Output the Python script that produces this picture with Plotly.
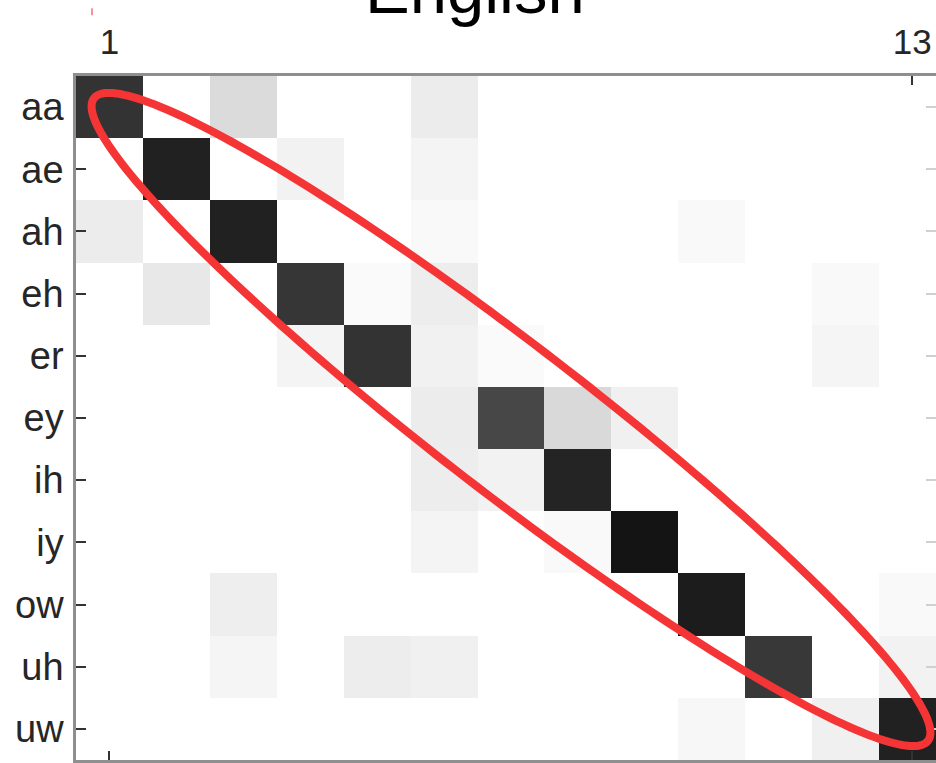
import numpy as np
import plotly.graph_objects as go

# ---- data ----
phones = ["aa", "ae", "ah", "eh", "er", "ey", "ih", "iy", "ow", "uh", "uw"]
clusters = list(range(1, 14))
x_tick_vals = [1, 13]
x_tick_text = ["1", "13"]
title_text = "English"

row_aa = [0.80, 0, 0.14, 0, 0, 0.075, 0, 0, 0, 0, 0, 0, 0]
row_ae = [0, 0.87, 0, 0.05, 0, 0.045, 0, 0, 0, 0, 0, 0, 0]
row_ah = [0.075, 0, 0.87, 0, 0, 0.025, 0, 0, 0, 0.025, 0, 0, 0]
row_eh = [0, 0.09, 0, 0.79, 0.02, 0.07, 0, 0, 0, 0, 0, 0.025, 0]
row_er = [0, 0, 0, 0.045, 0.80, 0.055, 0.02, 0, 0, 0, 0, 0.04, 0]
row_ey = [0, 0, 0, 0, 0, 0.075, 0.72, 0.15, 0.06, 0, 0, 0, 0]
row_ih = [0, 0, 0, 0, 0, 0.07, 0.05, 0.86, 0, 0, 0, 0, 0]
row_iy = [0, 0, 0, 0, 0, 0.045, 0, 0.025, 0.92, 0, 0, 0, 0]
row_ow = [0, 0, 0.065, 0, 0, 0, 0, 0, 0, 0.89, 0, 0, 0.025]
row_uh = [0, 0, 0.04, 0, 0.07, 0.06, 0, 0, 0, 0, 0.78, 0, 0.05]
row_uw = [0, 0, 0, 0, 0, 0, 0, 0, 0, 0.03, 0, 0.06, 0.87]

z = [row_aa, row_ae, row_ah, row_eh, row_er, row_ey, row_ih, row_iy,
     row_ow, row_uh, row_uw]

# ---- figure ----
W, H = 936, 763
ML, MR, MT, MB = 76, 0, 76, 1
PW, PH = W - ML - MR, H - MT - MB
col_w = 66.9
x_max = 0.5 + PW / col_w

fig = go.Figure()
fig.add_trace(go.Heatmap(
    z=z, x=clusters, y=phones,
    zmin=0, zmax=1,
    colorscale=[[0, "#ffffff"], [1, "#000000"]],
    showscale=False,
    hoverinfo="x+y+z",
))
# invisible copy bound to a right-hand y axis (only for its faint tick marks)
fig.add_trace(go.Heatmap(
    z=z, x=clusters, y=phones, yaxis="y2",
    zmin=0, zmax=1, colorscale=[[0, "#ffffff"], [1, "#000000"]],
    showscale=False, opacity=0, hoverinfo="skip",
))

tick_font = dict(family="Liberation Sans, Arial, sans-serif", color="#262626")

fig.update_layout(
    width=W, height=H,
    margin=dict(l=ML, r=MR, t=MT, b=MB, pad=0),
    paper_bgcolor="white", plot_bgcolor="white",
    xaxis=dict(
        side="top", range=[0.5, x_max],
        tickmode="array", tickvals=x_tick_vals, ticktext=x_tick_text,
        ticks="inside", ticklen=9, tickwidth=1.5, tickcolor="#333333",
        showline=True, linecolor="#8f8f8f", linewidth=2.5,
        mirror="ticks", showgrid=False, zeroline=False,
        tickfont=dict(size=35, **tick_font), ticklabelstandoff=5,
    ),
    yaxis=dict(
        range=[len(phones) - 0.5, -0.5],
        ticks="inside", ticklen=10, tickwidth=1.5, tickcolor="#333333",
        showline=True, linecolor="#8f8f8f", linewidth=2.5,
        showgrid=False, zeroline=False,
        tickfont=dict(size=38, **tick_font), ticklabelstandoff=2,
    ),
    yaxis2=dict(
        overlaying="y", side="right", matches="y",
        ticks="inside", ticklen=10, tickwidth=1.5, tickcolor="#d0d0d0",
        showticklabels=False, showline=False, showgrid=False, zeroline=False,
    ),
)

# title (partly cut by top edge, as in the reference)
fig.add_annotation(
    text=title_text, xref="paper", yref="paper",
    x=(475 - ML) / PW, y=1 + (MT - 29) / PH,
    xanchor="center", yanchor="bottom", showarrow=False,
    font=dict(family="Liberation Sans, Arial, sans-serif", size=67, color="#000000"),
)

# red highlight ellipse along the diagonal (pixel geometry -> paper coords)
cx, cy, a, b, th = 511.0, 420.5, 527.0, 74.0, np.deg2rad(37.7)
t = np.linspace(0, 2 * np.pi, 241)
px = cx + a * np.cos(t) * np.cos(th) - b * np.sin(t) * np.sin(th)
py = cy + a * np.cos(t) * np.sin(th) + b * np.sin(t) * np.cos(th)
ux = (px - ML) / PW
uy = (H - MB - py) / PH
path = "M " + " L ".join(f"{xx:.5f},{yy:.5f}" for xx, yy in zip(ux, uy)) + " Z"
fig.add_shape(type="path", path=path, xref="paper", yref="paper",
              line=dict(color="#f53535", width=8), layer="above")

# small red stray mark near top-left
fig.add_shape(type="line", xref="paper", yref="paper",
              x0=(92 - ML) / PW, x1=(92 - ML) / PW,
              y0=(H - MB - 8) / PH, y1=(H - MB - 15) / PH,
              line=dict(color="#f07070", width=1.5))

fig.write_html("out.html")
